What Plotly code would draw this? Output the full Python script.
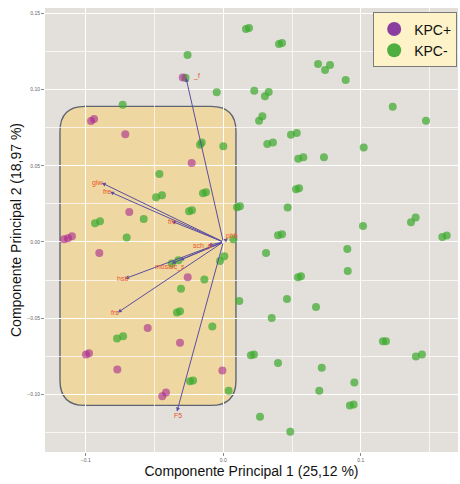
import plotly.graph_objects as go

# ---------------- data ----------------
kpc_neg_x = [-0.0260, 0.0165, 0.0187, 0.0405, 0.0427, 0.0689, 0.0740, 0.0776, 0.0890, 0.1232,
             0.1474, -0.0048, 0.0225, 0.0303, 0.0330, 0.0260, 0.0284, 0.0492, 0.0534, 0.0320,
             0.0361, 0.0545, 0.0582, 0.0732, 0.1021, -0.0169, -0.0157, 0.0000, -0.0148, -0.0126,
             0.0529, 0.0551, -0.0249, -0.0228, 0.0100, 0.0121, 0.0468, 0.1016, 0.1365, 0.1399,
             -0.0732, -0.0465, -0.0489, -0.0446, -0.0579, -0.0933, -0.0897, -0.0703, -0.0375, -0.0327,
             -0.0308, -0.0337, -0.0315, -0.0773, -0.0729, 0.0398, 0.0427, 0.0311, 0.0073, 0.0007,
             -0.0024, -0.0138, 0.0543, 0.0565, 0.0116, 0.0463, 0.0674, 0.0352, -0.0080, 0.0201,
             0.0223, 0.0398, 0.0716, -0.0242, -0.0220, 0.0039, 0.0698, 0.0267, 0.0487, 0.1593,
             0.1625, 0.0902, 0.0905, 0.1161, 0.1183, 0.1401, 0.1445, 0.0953, 0.0921, 0.0948,
             -0.0275]
kpc_neg_y = [0.1228, 0.1399, 0.1406, 0.1300, 0.1307, 0.1169, 0.1130, 0.1163, 0.1064, 0.0888,
             0.0796, 0.0983, 0.0993, 0.0957, 0.0985, 0.0796, 0.0825, 0.0704, 0.0715, 0.0643,
             0.0654, 0.0546, 0.0557, 0.0557, 0.0621, 0.0638, 0.0654, 0.0628, 0.0320, 0.0327,
             0.0347, 0.0353, 0.0202, 0.0209, 0.0228, 0.0235, 0.0226, 0.0105, 0.0130, 0.0161,
             0.0901, 0.0447, 0.0294, 0.0307, 0.0151, 0.0123, 0.0136, 0.0029, -0.0142, -0.0120,
             -0.0307, -0.0463, -0.0456, -0.0634, -0.0620, 0.0044, 0.0051, -0.0072, 0.0018, -0.0094,
             -0.0125, -0.0247, -0.0232, -0.0226, -0.0388, -0.0375, -0.0428, -0.0500, -0.0555, -0.0745,
             -0.0739, -0.0796, -0.0826, -0.0916, -0.0910, -0.0978, -0.0978, -0.1149, -0.1247, 0.0033,
             0.0042, -0.0046, -0.0191, -0.0653, -0.0653, -0.0752, -0.0739, -0.0923, -0.1074, -0.1068,
             0.1079]

kpc_pos_x = [-0.0962, -0.0940, -0.0713, -0.0684, -0.0230, -0.1159, -0.1130, -0.1101, -0.0902, -0.0550,
             -0.0315, -0.0999, -0.0977, -0.0771, -0.0444, -0.0417, -0.0259, -0.0007, -0.0295]
kpc_pos_y = [0.0794, 0.0807, 0.0707, 0.0197, 0.0518, 0.0018, 0.0024, 0.0038, -0.0072, -0.0566,
             -0.0662, -0.0739, -0.0732, -0.0838, -0.1013, -0.0989, -0.0232, -0.0844, 0.1080]

# loading vectors (arrows from origin)
var_names = ["_f", "F5", "glw", "fre", "frc", "hsb", "frs", "mosaic_s", "", "sch_d", "phb"]
var_x = [-0.0271, -0.0337, -0.0884, -0.0824, -0.0375, -0.0715, -0.0768, -0.0375, -0.0315, -0.0109, 0.0034]
var_y = [0.1077, -0.1114, 0.0388, 0.0329, 0.0136, -0.0241, -0.0464, -0.0142, -0.0120, -0.0022, 0.0024]
label_shift = [(10, 2), (1, -4), (-4, 0), (-3, 0), (0, 0), (-3, 0), (-3, 0), (-2, -3), (0, 0), (-6, -1), (4, 2)]

x_title = "Componente Principal 1 (25,12 %)"
y_title = "Componente Principal 2 (18,97 %)"
x_ticks = [-0.1, 0.0, 0.1]
y_ticks = [-0.10, -0.05, 0.00, 0.05, 0.10, 0.15]

# highlighted region (rounded rectangle)
box_left, box_right, box_bottom, box_top = -0.1188, 0.0092, -0.1074, 0.0891
rx, ry = 0.0182, 0.0164

# ---------------- figure ----------------
fig = go.Figure()

fig.add_trace(go.Scatter(x=kpc_neg_x, y=kpc_neg_y, mode="markers", showlegend=False,
                         marker=dict(color="#3FAA30", size=8, opacity=0.72, line=dict(width=0))))
fig.add_trace(go.Scatter(x=kpc_pos_x, y=kpc_pos_y, mode="markers", showlegend=False,
                         marker=dict(color="#A8268E", size=8, opacity=0.6, line=dict(width=0))))
# legend entries
fig.add_trace(go.Scatter(x=[None], y=[None], mode="markers", name="KPC+",
                         marker=dict(color="#8A3FA0", size=14)))
fig.add_trace(go.Scatter(x=[None], y=[None], mode="markers", name="KPC-",
                         marker=dict(color="#4EAE3F", size=14)))

L, R, B, T = box_left, box_right, box_bottom, box_top
path = (f"M {L + rx} {B} L {R - rx} {B} Q {R} {B} {R} {B + ry} "
        f"L {R} {T - ry} Q {R} {T} {R - rx} {T} "
        f"L {L + rx} {T} Q {L} {T} {L} {T - ry} "
        f"L {L} {B + ry} Q {L} {B} {L + rx} {B} Z")
fig.add_shape(type="path", path=path, xref="x", yref="y", layer="below",
              fillcolor="rgba(240,214,150,0.85)", line=dict(color="#5F6673", width=1.4))

for name, vx, vy, (sx, sy) in zip(var_names, var_x, var_y, label_shift):
    fig.add_annotation(x=vx, y=vy, ax=0, ay=0, xref="x", yref="y", axref="x", ayref="y",
                       text="", showarrow=True, arrowhead=2, arrowsize=0.8, arrowwidth=1,
                       arrowcolor="#5B4EA0")
    if name:
        fig.add_annotation(x=vx, y=vy, xref="x", yref="y", text=name, showarrow=False,
                           xshift=sx, yshift=sy,
                           font=dict(family="Liberation Sans, Arial", size=7, color="#E8542C"))

axis_common = dict(showgrid=True, gridcolor="white", gridwidth=1.2, zeroline=False,
                   ticks="outside", ticklen=3, tickcolor="#888", tickwidth=1,
                   tickfont=dict(family="Liberation Sans, Arial", size=5, color="#666"),
                   showline=False, automargin=False)

fig.update_xaxes(range=[-0.1297, 0.1707], tickvals=x_ticks, tickformat=".1f",
                 minor=dict(dtick=0.05, tick0=0, showgrid=True, gridcolor="rgba(255,255,255,0.7)", gridwidth=0.6),
                 title=dict(text=x_title, standoff=4,
                            font=dict(family="Liberation Sans, Arial", size=14, color="#111")),
                 **axis_common)
fig.update_yaxes(range=[-0.138, 0.1537], tickvals=y_ticks, tickformat=".2f",
                 minor=dict(dtick=0.025, tick0=0, showgrid=True, gridcolor="rgba(255,255,255,0.7)", gridwidth=0.6),
                 title=dict(text=y_title, standoff=2,
                            font=dict(family="Liberation Sans, Arial", size=14, color="#111")),
                 **axis_common)

fig.update_layout(
    width=460, height=484,
    margin=dict(l=45, r=2, t=8, b=32, autoexpand=False),
    paper_bgcolor="white", plot_bgcolor="#E3DFDA",
    font=dict(family="Liberation Sans, Arial"),
    legend=dict(x=0.998, y=0.99, xanchor="right", yanchor="top",
                bgcolor="#FDF2C8", bordercolor="#7A7A7A", borderwidth=1,
                font=dict(size=14, color="#111"), itemwidth=30, tracegroupgap=0),
)

fig.write_html("out.html", config={"displayModeBar": False},
               post_script="document.body.style.margin='0';document.body.style.overflow='hidden';")
